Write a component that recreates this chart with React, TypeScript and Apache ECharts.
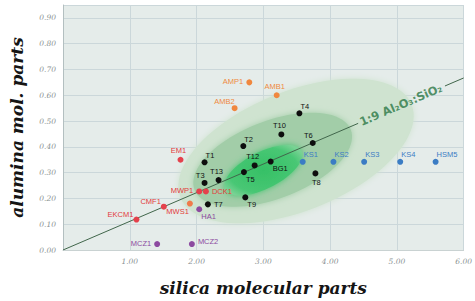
import React, { useEffect, useRef } from 'react';
import * as echarts from 'echarts';

// ---- data (silica molecular parts, alumina mol. parts) ----
const blackNames = ['T4', 'T10', 'T2', 'T6', 'T1', 'T12', 'BG1', 'T5', 'T13', 'T8', 'T3', 'T9', 'T7'];
const blackSilica = [3.54, 3.27, 2.7, 3.74, 2.12, 2.87, 3.11, 2.71, 2.33, 3.78, 2.12, 2.73, 2.17];
const blackAlumina = [0.53, 0.448, 0.403, 0.415, 0.34, 0.328, 0.343, 0.302, 0.271, 0.297, 0.26, 0.204, 0.177];

const orangeNames = ['AMP1', 'AMB1', 'AMB2'];
const orangeSilica = [2.79, 3.2, 2.57];
const orangeAlumina = [0.65, 0.6, 0.55];

const redNames = ['EM1', 'MWP1', 'DCK1', 'CMF1', 'MWS1', 'EKCM1'];
const redSilica = [1.76, 2.04, 2.14, 1.51, 1.9, 1.1];
const redAlumina = [0.35, 0.227, 0.227, 0.168, 0.18, 0.118];

const purpleNames = ['HA1', 'MCZ1', 'MCZ2'];
const purpleSilica = [2.04, 1.41, 1.93];
const purpleAlumina = [0.158, 0.023, 0.023];

const blueNames = ['KS1', 'KS2', 'KS3', 'KS4', 'HSM5'];
const blueSilica = [3.59, 4.05, 4.51, 5.05, 5.58];
const blueAlumina = [0.342, 0.342, 0.342, 0.342, 0.342];

// 1:9 Al2O3:SiO2 reference line (two segments, gap for the caption)
const ratioSegA = [[0, 0], [4.42, 0.491]];
const ratioSegB = [[5.72, 0.636], [6, 0.667]];
const ratioCaption = '1:9 Al₂O₃:SiO₂';
const ratioCaptionAt = [5.06, 0.563];

// nested zones: centre, half major axis vector, minor/major ratio
const zoneCenterSilica = [3.49, 3.14, 3.0];
const zoneCenterAlumina = [0.384, 0.35, 0.309];
const zoneAxisSilica = [1.73, 1.17, 0.57];
const zoneAxisAlumina = [0.18, 0.116, 0.075];
const zoneRatio = [0.48, 0.465, 0.43];

const yTicks = { min: 0, max: 0.95, interval: 0.1 };
const xTicks = { min: 0, max: 6, interval: 1 };

// ---- styles ----
const zoneColors = ['#cfe3d0', '#a2cda8', '#45c470'];
const labelPlace: Record<string, string> = {
  AMP1: 'left', AMB1: 'top', AMB2: 'topleft', T4: 'topright', T10: 'top', T2: 'topright',
  T6: 'topleft', EM1: 'top', T1: 'topright', T12: 'top', BG1: 'bottomright', KS1: 'topright',
  KS2: 'topright', KS3: 'topright', KS4: 'topright', HSM5: 'topright', T5: 'bottomright',
  T13: 'top', T8: 'bottom', T3: 'topleft', MWP1: 'left', DCK1: 'right', T9: 'bottomright',
  CMF1: 'lefthigh', MWS1: 'bottomleft', T7: 'right', HA1: 'bottomright', EKCM1: 'lefthigh',
  MCZ1: 'left', MCZ2: 'righthigh',
};
const placements: Record<string, any> = {
  left: { position: 'left', distance: 3, offset: [0, -1] },
  lefthigh: { position: 'left', distance: 2, offset: [2, -5] },
  right: { position: 'right', distance: 3, offset: [0, 0] },
  righthigh: { position: 'right', distance: 3, offset: [0, -3] },
  top: { position: 'top', distance: 2, offset: [-2, 0] },
  bottom: { position: 'bottom', distance: 2, offset: [1, 0] },
  topleft: { position: 'left', distance: 0, offset: [3, -7] },
  topright: { position: 'right', distance: 0, offset: [-2, -7] },
  bottomright: { position: 'right', distance: 0, offset: [-1, 7] },
  bottomleft: { position: 'left', distance: 0, offset: [2, 8] },
};

const labelFont = 'Liberation Sans, Arial, sans-serif';

function pointSeries(names: string[], xs: number[], ys: number[], color: string, labelColor: string, dotOverride?: Record<string, string>) {
  return {
    type: 'scatter',
    symbolSize: 6,
    z: 5,
    itemStyle: { color, opacity: 1 },
    label: { show: true, formatter: '{b}', fontSize: 7.5, color: labelColor, fontFamily: labelFont },
    data: names.map((n, i) => ({
      name: n,
      value: [xs[i], ys[i]],
      label: placements[labelPlace[n] || 'right'],
      itemStyle: dotOverride && dotOverride[n] ? { color: dotOverride[n] } : undefined,
    })),
  };
}

export default function App() {
  const ref = useRef<HTMLDivElement>(null);
  useEffect(() => {
    if (!ref.current) return;
    const chart = echarts.init(ref.current, null, { renderer: 'svg' });
    const axisLabelStyle = { fontFamily: 'DejaVu Serif', fontStyle: 'italic', fontSize: 7.5, color: '#8a9292' };
    const nameStyle = { fontFamily: 'DejaVu Serif', fontWeight: 'bold', fontStyle: 'italic', fontSize: 17, color: '#151515' };
    const zoneData = zoneCenterSilica.map((c, i) => [c, zoneCenterAlumina[i], zoneAxisSilica[i], zoneAxisAlumina[i], zoneRatio[i]]);
    chart.setOption({
      animation: false,
      backgroundColor: '#ffffff',
      grid: { left: 62, right: 2, top: 5, bottom: 44, containLabel: false, show: true, backgroundColor: '#e5ecea', borderWidth: 0 },
      xAxis: {
        type: 'value', ...xTicks,
        name: 'silica molecular parts', nameLocation: 'middle', nameGap: 29, nameTextStyle: nameStyle,
        axisLine: { show: true, lineStyle: { color: '#c9d2d2' } },
        axisTick: { show: false },
        axisLabel: { ...axisLabelStyle, margin: 7, showMinLabel: false, formatter: (v: number) => v.toFixed(2) },
        splitLine: { show: true, lineStyle: { color: '#cbd7da', width: 1 } },
      },
      yAxis: {
        type: 'value', ...yTicks,
        name: 'alumina mol. parts', nameLocation: 'middle', nameGap: 38, nameTextStyle: nameStyle,
        axisLine: { show: true, lineStyle: { color: '#b3bfc0' } },
        axisTick: { show: false },
        axisLabel: { ...axisLabelStyle, margin: 7, showMaxLabel: false, formatter: (v: number) => v.toFixed(2) },
        splitLine: { show: true, lineStyle: { color: '#cbd7da', width: 1 } },
      },
      series: [
        {
          type: 'custom',
          silent: true,
          z: 1,
          encode: { x: 0, y: 1 },
          data: zoneData,
          renderItem: (params: any, api: any) => {
            const cx = api.value(0), cy = api.value(1), ux = api.value(2), uy = api.value(3), r = api.value(4);
            const c = api.coord([cx, cy]);
            const e = api.coord([cx + ux, cy + uy]);
            const mx = e[0] - c[0], my = e[1] - c[1];
            const px = my * r, py = -mx * r;
            const pts: number[][] = [];
            for (let k = 0; k < 90; k++) {
              const t = (k / 90) * Math.PI * 2;
              pts.push([c[0] + Math.cos(t) * mx + Math.sin(t) * px, c[1] + Math.cos(t) * my + Math.sin(t) * py]);
            }
            const idx = params.dataIndex;
            const fill = idx === 2
              ? new echarts.graphic.RadialGradient(0.5, 0.5, 0.6, [
                  { offset: 0, color: '#36c066' },
                  { offset: 0.75, color: '#48c774' },
                  { offset: 1, color: '#78d294' },
                ])
              : zoneColors[idx];
            return {
              type: 'polygon',
              shape: { points: pts, smooth: 0 },
              style: { fill, shadowBlur: 6, shadowColor: zoneColors[idx] },
            };
          },
        },
        {
          type: 'line', data: ratioSegA, symbol: 'none', silent: true, z: 3,
          lineStyle: { color: '#41664b', width: 1 },
        },
        {
          type: 'line', data: ratioSegB, symbol: 'none', silent: true, z: 3,
          lineStyle: { color: '#41664b', width: 1 },
        },
        {
          type: 'scatter', symbolSize: 1, silent: true, z: 4,
          itemStyle: { color: 'rgba(0,0,0,0)' },
          label: {
            show: true, position: 'inside', formatter: '{b}', rotate: 23.3,
            fontFamily: 'DejaVu Sans', fontWeight: 'bold', fontSize: 11.5, color: '#2a7744',
          },
          data: [{ name: ratioCaption, value: ratioCaptionAt }],
        },
        pointSeries(orangeNames, orangeSilica, orangeAlumina, '#f0873e', '#ef8a3e'),
        pointSeries(redNames, redSilica, redAlumina, '#e4414c', '#e23a3a', { MWS1: '#f07a4a' }),
        pointSeries(purpleNames, purpleSilica, purpleAlumina, '#8c4aa0', '#8c4aa0'),
        pointSeries(blueNames, blueSilica, blueAlumina, '#3b7cc4', '#3b7cc4'),
        pointSeries(blackNames, blackSilica, blackAlumina, '#0e0e0e', '#111111'),
      ],
    });
    return () => chart.dispose();
  }, []);
  return <div ref={ref} style={{ position: 'fixed', left: 0, top: 0, width: 475, height: 301 }} />;
}
